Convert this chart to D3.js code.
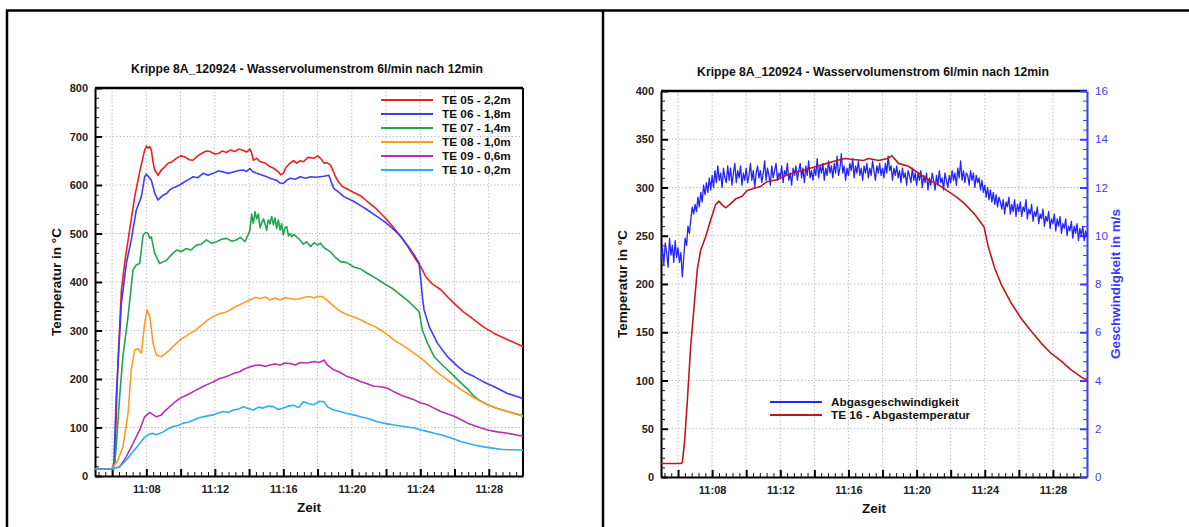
<!DOCTYPE html>
<html>
<head>
<meta charset="utf-8">
<script src="https://cdn.jsdelivr.net/npm/d3@7"></script>
<style>
  body { margin: 0; background: #fff; }
  svg { display: block; font-family: "Liberation Sans", Arial, Helvetica, sans-serif; }
</style>
</head>
<body>
<svg id="chart" width="1189" height="527"></svg>
<script>
// ---------- data: [minutes after 11:00, value] ----------
const chartTitle = "Krippe 8A_120924 - Wasservolumenstrom 6l/min nach 12min";

const te05 = [[5,14],[6.0,14],[6.15,30],[6.34,232],[6.54,383],[6.73,438],[7.02,507],[7.32,576],[7.61,627],[7.90,672],[8.02,680],[8.10,676],[8.20,679],[8.29,672],[8.40,645],[8.49,631],[8.68,620],[8.88,631],[9.07,637],[9.27,645],[9.50,648],[9.76,655],[10.0,660],[10.24,658],[10.50,652],[10.73,651],[11.0,660],[11.22,665],[11.50,670],[11.71,669],[12.0,664],[12.20,665],[12.45,670],[12.68,667],[12.9,672],[13.17,669],[13.4,674],[13.66,671],[13.85,668],[14.05,674],[14.15,666],[14.25,651],[14.45,655],[14.64,648],[14.9,646],[15.22,638],[15.45,634],[15.71,627],[15.85,621],[16.0,624],[16.15,636],[16.39,645],[16.6,650],[16.78,645],[17.0,650],[17.17,648],[17.45,657],[17.78,655],[18.0,660],[18.2,654],[18.37,645],[18.55,646],[18.76,641],[18.9,630],[19.05,617],[19.25,605],[19.44,597],[20.03,586],[20.5,578],[20.90,566],[21.4,552],[21.98,531],[22.4,514],[22.86,494],[23.25,474],[23.64,452],[24.03,431],[24.32,411],[24.7,396],[25.20,384],[25.6,369],[25.98,356],[26.5,339],[27.15,322],[27.7,307],[28.32,294],[29.1,281],[30,267]];

const te06 = [[5,14],[6.0,14],[6.1,25],[6.24,164],[6.54,356],[6.83,438],[7.12,487],[7.41,548],[7.71,576],[7.90,617],[8.0,622],[8.10,618],[8.29,610],[8.49,583],[8.68,569],[8.85,575],[8.98,579],[9.2,583],[9.37,590],[9.55,594],[9.76,597],[10.0,601],[10.24,607],[10.5,612],[10.73,617],[11.0,615],[11.32,624],[11.6,620],[11.90,624],[12.2,629],[12.49,627],[12.8,624],[13.07,627],[13.4,630],[13.66,631],[13.85,628],[14.05,634],[14.2,628],[14.44,624],[14.7,621],[15.03,617],[15.3,613],[15.61,610],[15.8,604],[16.0,603],[16.2,610],[16.39,614],[16.7,612],[16.98,617],[17.3,614],[17.59,617],[17.9,616],[18.37,618],[18.66,620],[18.8,606],[18.95,593],[19.25,585],[19.54,576],[20.12,566],[20.5,558],[20.90,549],[21.4,537],[21.88,525],[22.4,510],[22.86,494],[23.25,476],[23.64,456],[23.93,439],[24.03,405],[24.12,370],[24.22,343],[24.52,308],[25.00,274],[25.59,246],[26.18,226],[26.6,214],[27.15,205],[27.7,194],[28.32,184],[29.10,170],[30,160]];

const te07 = [[5,14],[6.0,14],[6.15,25],[6.24,60],[6.44,164],[6.63,246],[6.93,329],[7.22,425],[7.41,435],[7.61,438],[7.81,497],[7.95,502],[8.10,500],[8.20,490],[8.29,493],[8.49,459],[8.78,438],[9.0,442],[9.17,445],[9.46,456],[9.76,466],[10.05,463],[10.34,469],[10.6,466],[10.93,476],[11.2,478],[11.51,487],[11.8,480],[12.10,483],[12.4,488],[12.68,490],[13.0,484],[13.27,487],[13.5,492],[13.76,483],[13.95,498],[14.05,507],[14.15,540],[14.25,521],[14.35,545],[14.44,530],[14.54,540],[14.64,512],[14.73,521],[14.85,530],[15.03,507],[15.12,528],[15.22,520],[15.32,535],[15.42,518],[15.52,532],[15.61,510],[15.71,528],[15.81,507],[15.9,520],[16.0,497],[16.10,512],[16.20,514],[16.30,495],[16.39,500],[16.49,493],[16.6,498],[16.78,493],[16.98,486],[17.17,478],[17.35,483],[17.59,473],[17.8,481],[18.0,476],[18.17,480],[18.4,470],[18.76,462],[19.0,452],[19.34,442],[19.7,440],[20.12,431],[20.5,427],[20.90,418],[21.4,408],[21.88,397],[22.4,386],[22.86,373],[23.25,362],[23.64,349],[23.93,339],[24.03,320],[24.12,301],[24.42,274],[24.81,246],[25.2,232],[25.59,219],[26.0,205],[26.37,192],[26.8,178],[27.15,164],[27.5,155],[27.93,147],[28.5,139],[29.10,133],[30,124]];

const te08 = [[5,14],[6.0,14],[6.34,33],[6.63,60],[6.93,129],[7.12,219],[7.32,260],[7.51,263],[7.71,253],[7.90,315],[8.04,342],[8.20,329],[8.39,274],[8.59,249],[8.88,246],[9.1,252],[9.37,260],[9.65,270],[9.95,280],[10.25,287],[10.54,294],[10.85,300],[11.12,308],[11.4,316],[11.71,325],[12.0,330],[12.29,335],[12.6,337],[12.88,342],[13.2,349],[13.46,353],[13.75,358],[14.05,363],[14.35,368],[14.64,366],[14.95,369],[15.22,363],[15.5,367],[15.81,363],[16.1,368],[16.39,366],[16.7,364],[16.98,366],[17.3,369],[17.56,370],[17.8,367],[18.0,370],[18.27,370],[18.5,364],[18.76,356],[19.05,347],[19.34,339],[19.7,333],[20.12,328],[20.5,322],[20.90,315],[21.3,309],[21.68,301],[22.1,291],[22.47,280],[22.86,272],[23.25,263],[23.64,253],[24.03,243],[24.4,232],[24.81,219],[25.2,208],[25.59,198],[26.0,188],[26.37,178],[26.8,169],[27.15,161],[27.5,154],[27.93,147],[28.5,139],[29.10,133],[30,123]];

const te09 = [[5,14],[6.0,14],[6.44,19],[6.83,40],[7.22,67],[7.61,95],[7.90,122],[8.20,131],[8.40,126],[8.59,122],[8.88,126],[9.1,135],[9.37,143],[9.65,152],[9.95,160],[10.25,165],[10.54,170],[10.85,176],[11.12,181],[11.4,186],[11.71,191],[12.0,196],[12.29,201],[12.6,204],[12.88,208],[13.2,213],[13.46,215],[13.75,221],[14.05,225],[14.35,228],[14.64,229],[14.95,226],[15.22,229],[15.5,231],[15.81,229],[16.1,233],[16.39,232],[16.7,229],[16.98,234],[17.4,233],[17.78,236],[18.1,234],[18.37,239],[18.6,228],[18.95,219],[19.3,214],[19.73,205],[20.1,201],[20.51,195],[20.9,190],[21.29,185],[21.7,184],[22.08,181],[22.5,173],[22.86,167],[23.25,162],[23.64,157],[24.0,151],[24.42,147],[24.8,140],[25.20,133],[25.6,128],[25.98,123],[26.4,116],[26.76,109],[27.3,102],[27.93,95],[28.5,91],[29.10,88],[30,82]];

const te10 = [[5,14],[6.0,14],[6.44,19],[6.83,33],[7.22,50],[7.61,67],[7.85,78],[8.10,85],[8.35,88],[8.59,85],[8.98,91],[9.25,97],[9.56,102],[9.85,104],[10.15,109],[10.45,111],[10.73,115],[11.0,119],[11.32,122],[11.6,124],[11.90,126],[12.2,130],[12.49,133],[12.8,131],[13.07,136],[13.4,138],[13.66,143],[13.95,139],[14.25,136],[14.55,142],[14.83,140],[15.1,144],[15.42,143],[15.7,137],[16.00,140],[16.3,144],[16.59,146],[16.9,141],[17.17,153],[17.5,149],[17.78,147],[18.1,154],[18.37,153],[18.6,142],[18.95,136],[19.3,133],[19.73,129],[20.1,126],[20.51,122],[21.0,118],[21.49,112],[22.0,108],[22.47,105],[22.86,103],[23.25,101],[23.64,99],[24.03,95],[24.4,92],[24.81,88],[25.2,85],[25.59,81],[26.0,76],[26.37,71],[26.8,67],[27.15,64],[27.7,60],[28.32,57],[28.7,55],[29.10,54],[29.6,54],[30,53]];

const leftNames = ["TE 05 - 2,2m", "TE 06 - 1,8m", "TE 07 - 1,4m", "TE 08 - 1,0m", "TE 09 - 0,6m", "TE 10 - 0,2m"];
const leftColors = ["#ee1f1f", "#3c3cff", "#1fa64f", "#ff9a26", "#b72fb7", "#2aaef5"];
const leftData = [te05, te06, te07, te08, te09, te10];

// exhaust temperature, [minutes after 11:00, °C]
const te16 = [[5,14],[6.16,14],[6.25,15],[6.39,38],[6.55,80],[6.74,135],[6.94,176],[7.13,215],[7.33,235],[7.62,249],[7.91,266],[8.20,282],[8.40,286],[8.59,282],[8.79,279],[9.08,283],[9.37,288],[9.76,291],[10.05,297],[10.44,299],[10.83,301],[11.22,306],[11.81,308],[12.39,313],[12.98,316],[13.56,319],[14.15,322],[14.73,325],[15.32,328],[15.80,330],[16.29,329],[16.88,328],[17.18,330],[17.77,328],[18.3,330],[18.55,333],[18.94,325],[19.52,322],[20.10,315],[20.69,308],[21.27,303],[21.86,296],[22.35,290],[22.83,283],[23.42,272],[23.96,259],[24.20,239],[24.59,216],[24.98,199],[25.56,180],[26.15,164],[26.73,151],[27.32,138.5],[27.90,128],[28.49,120],[29.07,111],[29.80,102],[30,101]];

// exhaust speed in m/s, sampled every 5 s from 11:05:00 to 11:30:00 (one row per minute)
const speedStartMin = 5;
const speedStepSec = 5;
const speed = [
  9.0, 9.5, 8.8, 9.7, 9.3, 8.7, 9.9, 9.2, 9.6, 8.9, 9.8, 9.1,
  9.5, 8.9, 9.3, 8.3, 9.1, 9.9, 9.6, 10.4, 10.1, 10.7, 11.2, 10.9,
  11.3, 11.0, 11.6, 11.2, 11.8, 11.4, 12.1, 11.7, 12.2, 11.8, 12.4, 11.9,
  12.5, 12.0, 12.7, 12.2, 12.9, 12.3, 12.6, 12.0, 12.8, 12.4, 12.2, 12.9,
  12.3, 12.8, 12.1, 12.6, 13.0, 12.2, 12.7, 12.4, 12.9, 12.1, 12.6, 12.3,
  12.8, 12.2, 12.5, 13.0, 12.3, 12.7, 12.0, 12.6, 12.9, 12.4, 12.7, 12.2,
  12.6, 13.1, 12.3, 12.8, 12.5, 12.1, 12.9, 12.4, 12.7, 13.0, 12.3, 12.6,
  12.4, 12.9, 12.2, 12.7, 12.5, 13.0, 12.3, 12.6, 12.1, 12.8, 12.5, 12.9,
  12.3, 12.7, 13.0, 12.4, 12.8, 12.2, 12.9, 12.5, 13.1, 12.4, 12.7, 12.3,
  12.8, 12.5, 13.2, 12.4, 12.9, 12.6, 13.0, 12.3, 12.8, 12.5, 13.1, 12.6,
  12.9, 12.4, 13.0, 12.6, 13.3, 12.5, 12.8, 13.4, 12.6, 12.9, 12.3, 12.8,
  12.5, 13.0, 12.7, 13.2, 12.4, 12.9, 12.6, 13.1, 12.5, 12.8, 12.3, 12.9,
  12.6, 13.0, 12.4, 12.8, 12.5, 13.1, 12.7, 12.3, 12.9, 12.6, 13.0, 12.5,
  12.8, 12.4, 13.0, 12.6, 13.3, 12.7, 12.9, 12.3, 12.8, 12.5, 12.9, 12.4,
  12.7, 12.2, 12.8, 12.4, 12.6, 12.1, 12.7, 12.5, 12.2, 12.8, 12.3, 12.6,
  12.1, 12.6, 12.3, 12.7, 12.0, 12.5, 12.2, 12.6, 11.9, 12.4, 12.1, 12.6,
  12.3, 11.9, 12.5, 12.1, 12.7, 12.2, 12.4, 11.9, 12.6, 12.3, 12.0, 12.5,
  12.2, 12.7, 12.3, 12.6, 12.1, 12.8, 12.4, 13.1, 12.3, 12.7, 12.2, 12.6,
  12.5, 12.1, 12.7, 12.3, 12.6, 12.0, 12.5, 12.2, 12.4, 11.9, 12.3, 11.8,
  12.1, 11.6, 12.0, 11.5, 11.9, 11.4, 11.8, 11.3, 11.7, 11.2, 11.6, 11.4,
  11.1, 11.5, 10.9, 11.4, 11.2, 11.6, 10.9, 11.3, 11.0, 11.5, 10.8, 11.3,
  11.0, 11.4, 10.8, 11.2, 11.0, 11.5, 10.7, 11.1, 10.9, 11.3, 10.6, 11.0,
  10.8, 11.2, 10.5, 10.9, 10.7, 11.1, 10.4, 10.8, 10.6, 11.0, 10.3, 10.7,
  10.5, 10.9, 10.2, 10.7, 10.4, 10.8, 10.1, 10.5, 10.3, 10.7, 10.0, 10.4,
  10.2, 10.6, 9.9, 10.4, 10.1, 10.5, 9.8, 10.3, 10.0, 10.4, 9.8, 10.2,
  10.0
];

const rightNames = ["Abgasgeschwindigkeit", "TE 16 - Abgastemperatur"];
const rightColors = ["#2424ff", "#c2161c"];

// ---------- helpers ----------
const base = new Date(2012, 8, 24, 11, 0, 0);
const at = m => new Date(base.getTime() + m * 60000);
const fmt = d3.timeFormat("%H:%M");
const svg = d3.select("#chart");

// page frame (table cells)
svg.append("path").attr("d", "M7,527V10.5H1189").attr("fill", "none").attr("stroke", "#000").attr("stroke-width", 2.5);
svg.append("line").attr("x1", 603).attr("x2", 603).attr("y1", 10).attr("y2", 527).attr("stroke", "#000").attr("stroke-width", 2.5);

function panel(opt) {
  const { x0, x1, y0, y1, yMax, yMajor, yMinor, cx } = opt;
  const x = d3.scaleTime().domain([at(5), at(30)]).range([x0, x1]);
  const y = d3.scaleLinear().domain([0, yMax]).range([y1, y0]);
  const g = svg.append("g");

  // grid
  const majorMinutes = d3.range(6, 30, 2);
  g.append("g").selectAll("line").data(majorMinutes).join("line")
    .attr("x1", m => x(at(m))).attr("x2", m => x(at(m)))
    .attr("y1", y0).attr("y2", y1)
    .attr("stroke", "#bdbdbd").attr("stroke-width", 1).attr("stroke-dasharray", "1.5,2");
  g.append("g").selectAll("line").data(d3.range(yMajor, yMax, yMajor)).join("line")
    .attr("x1", x0).attr("x2", x1)
    .attr("y1", v => y(v)).attr("y2", v => y(v))
    .attr("stroke", "#bdbdbd").attr("stroke-width", 1).attr("stroke-dasharray", "1.5,2");

  // x axis: major ticks every 2 min, labels every 4 min, minor every 24 s
  const xMajor = majorMinutes.map(at);
  const xMinor = d3.range(12, 1500, 24).map(s => at(5 + s / 60)).filter(d => (d.getTime() - at(6).getTime()) % 120000 !== 0);
  const ax = g.append("g").attr("transform", `translate(0,${y1})`)
    .call(d3.axisBottom(x).tickValues(xMajor).tickSize(-7).tickSizeOuter(0).tickPadding(9)
      .tickFormat(d => d.getMinutes() % 4 === 0 ? fmt(d) : ""));
  g.append("g").attr("transform", `translate(0,${y1})`)
    .call(d3.axisBottom(x).tickValues(xMinor).tickSize(-4).tickFormat(""))
    .call(s => s.select(".domain").remove())
    .selectAll("line").attr("stroke", "#111").attr("stroke-width", 1);

  // left y axis
  g.append("g").attr("transform", `translate(${x0},0)`)
    .call(d3.axisLeft(y).tickValues(d3.range(0, yMax + 1, yMajor)).tickSize(-7).tickSizeOuter(0).tickPadding(7))
    .call(s => s.selectAll(".tick line").attr("stroke-width", 2));
  g.append("g").attr("transform", `translate(${x0},0)`)
    .call(d3.axisLeft(y).tickValues(d3.range(0, yMax, yMinor).filter(v => v % yMajor !== 0)).tickSize(-4).tickFormat(""))
    .call(s => s.select(".domain").remove())
    .selectAll("line").attr("stroke", "#111").attr("stroke-width", 1);

  ax.selectAll(".tick line").attr("stroke-width", 2);
  g.selectAll(".domain").attr("stroke", "#000").attr("stroke-width", 2);
  g.selectAll(".tick text").attr("font-size", 11).attr("font-weight", "bold").attr("fill", "#222");

  // top and right frame
  g.append("line").attr("x1", x0).attr("x2", x1).attr("y1", y0).attr("y2", y0).attr("stroke", "#000").attr("stroke-width", 2.5);
  if (!opt.rightAxis) {
    g.append("line").attr("x1", x1).attr("x2", x1).attr("y1", y0).attr("y2", y1).attr("stroke", "#000").attr("stroke-width", 2);
  }

  // titles
  svg.append("text").attr("x", cx).attr("y", y0 - 15).attr("text-anchor", "middle")
    .attr("font-size", 12.2).attr("font-weight", "bold").attr("fill", "#111").text(chartTitle);
  svg.append("text").attr("x", (x0 + x1) / 2).attr("y", y1 + 36).attr("text-anchor", "middle")
    .attr("font-size", 13.5).attr("font-weight", "bold").attr("fill", "#111").text("Zeit");
  svg.append("text").attr("transform", `translate(${x0 - 34},${(y0 + y1) / 2}) rotate(-90)`)
    .attr("text-anchor", "middle").attr("font-size", 13.5).attr("font-weight", "bold").attr("fill", "#111")
    .text("Temperatur in °C");

  return { x, y, g };
}

// ---------- left panel ----------
const L = panel({ x0: 95, x1: 523, y0: 88, y1: 476, yMax: 800, yMajor: 100, yMinor: 20, cx: 307 });
const lineL = d3.line().x(d => L.x(at(d[0]))).y(d => L.y(d[1]));
L.g.append("g").selectAll("path").data(leftData).join("path")
  .attr("d", lineL).attr("fill", "none")
  .attr("stroke", (d, i) => leftColors[i]).attr("stroke-width", 1.6).attr("stroke-linejoin", "round");

const legL = L.g.append("g").selectAll("g").data(leftNames).join("g")
  .attr("transform", (d, i) => `translate(381,${100 + i * 14})`);
legL.append("line").attr("x1", 0).attr("x2", 52).attr("stroke", (d, i) => leftColors[i]).attr("stroke-width", 2);
legL.append("text").attr("x", 61).attr("y", 4).attr("font-size", 11.8).attr("font-weight", "bold")
  .attr("fill", "#111").text(d => d);

// ---------- right panel ----------
const R = panel({ x0: 661, x1: 1087, y0: 91, y1: 477, yMax: 400, yMajor: 50, yMinor: 10, cx: 873, rightAxis: true });
const ySpeed = d3.scaleLinear().domain([0, 16]).range([477, 91]);
const blue = "#3b3bff";
R.g.append("g").attr("transform", "translate(1087,0)")
  .call(d3.axisRight(ySpeed).tickValues(d3.range(0, 17, 2)).tickSize(-7).tickSizeOuter(0).tickPadding(8))
  .call(s => {
    s.select(".domain").attr("stroke", blue).attr("stroke-width", 2);
    s.selectAll(".tick line").attr("stroke", blue).attr("stroke-width", 2);
    s.selectAll(".tick text").attr("fill", blue).attr("font-size", 11.5);
  });
R.g.append("g").attr("transform", "translate(1087,0)")
  .call(d3.axisRight(ySpeed).tickValues(d3.range(0.4, 16, 0.4).filter(v => Math.abs(v / 2 - Math.round(v / 2)) > 0.01)).tickSize(-4).tickFormat(""))
  .call(s => s.select(".domain").remove())
  .selectAll("line").attr("stroke", blue).attr("stroke-width", 1);
svg.append("text").attr("transform", `translate(1120,284) rotate(-90)`)
  .attr("text-anchor", "middle").attr("font-size", 13.5).attr("font-weight", "bold").attr("fill", blue)
  .text("Geschwindigkeit in m/s");

const speedLine = d3.line()
  .x((d, i) => R.x(at(speedStartMin + i * speedStepSec / 60)))
  .y(d => ySpeed(d));
R.g.append("path").datum(speed).attr("d", speedLine).attr("fill", "none")
  .attr("stroke", rightColors[0]).attr("stroke-width", 1.3).attr("stroke-linejoin", "round");
R.g.append("path").datum(te16)
  .attr("d", d3.line().x(d => R.x(at(d[0]))).y(d => R.y(d[1])))
  .attr("fill", "none").attr("stroke", rightColors[1]).attr("stroke-width", 1.6).attr("stroke-linejoin", "round");

const legR = R.g.append("g").selectAll("g").data(rightNames).join("g")
  .attr("transform", (d, i) => `translate(770,${402 + i * 13})`);
legR.append("line").attr("x1", 0).attr("x2", 52).attr("stroke", (d, i) => rightColors[i]).attr("stroke-width", 2);
legR.append("text").attr("x", 61).attr("y", 4).attr("font-size", 11.8).attr("font-weight", "bold")
  .attr("fill", "#111").text(d => d);
</script>
</body>
</html>
